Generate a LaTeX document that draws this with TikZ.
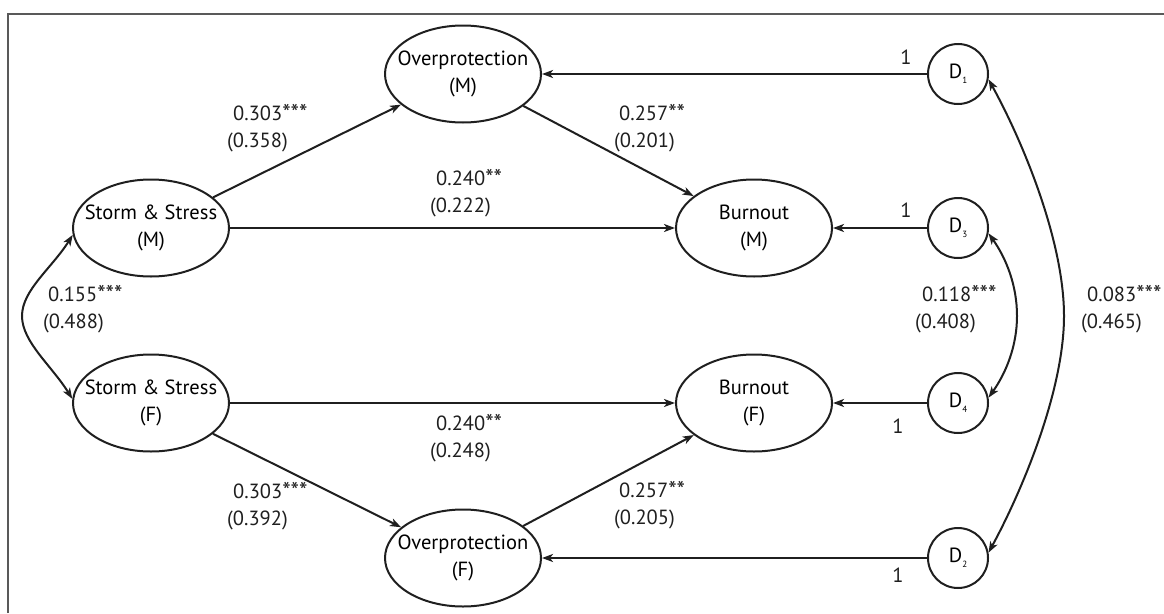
\documentclass[tikz,border=0pt]{standalone}
\usepackage{fontspec}
\setmainfont{PT Sans}
\usetikzlibrary{shapes.geometric,arrows.meta}
\newcommand\twoline[2]{\makebox[0pt]{\begin{tabular}{@{}c@{}}#1\\#2\end{tabular}}}
\newcommand\dsub[1]{D\raisebox{-5pt}{\fontsize{9}{9}\selectfont #1}}
\newcommand\stars[1]{\raisebox{-1.5pt}{\fontsize{24}{24}\selectfont #1}}
\begin{document}
\begin{tikzpicture}[x=1pt,y=-1pt,
  font=\fontsize{20.5}{27}\selectfont,
  ink/.style={draw=black!88, line width=2pt},
  latent/.style={ellipse, ink, minimum width=156pt, minimum height=97pt, inner sep=0pt},
  dnode/.style={circle, ink, minimum size=60pt, inner sep=0pt},
  arr/.style={ink, -{Stealth[length=11pt,width=8pt,inset=3pt]}},
  cov/.style={ink, {Stealth[length=11pt,width=8pt,inset=3pt]}-{Stealth[length=11pt,width=8pt,inset=3pt]}},
  coef/.style={anchor=west, align=left, inner sep=0pt, text=black!88},
  one/.style={inner sep=0pt, text=black!88},
  frame/.style={draw=black!65, line width=2pt}
  ]
\useasboundingbox (0,0) rectangle (1164,613);
\coordinate (fbl) at (8,613);
\coordinate (ftl) at (8,14);
\coordinate (ftr) at (1164,14);
\draw[frame] (fbl) -- (ftl) -- (ftr);

% latent variables
\node[latent] (opm) at (463,74) {\twoline{Overprotection}{(M)}};
\node[latent] (ssm) at (151,228) {\twoline{Storm \& Stress}{(M)}};
\node[latent] (bm)  at (754,228) {\twoline{Burnout}{(M)}};
\node[latent] (ssf) at (151,403) {\twoline{Storm \& Stress}{(F)}};
\node[latent] (bf)  at (754,403) {\twoline{Burnout}{(F)}};
\node[latent] (opf) at (463,558) {\twoline{Overprotection}{(F)}};

% disturbances
\node[dnode] (d1) at (958,74)  {\dsub{1}};
\node[dnode] (d3) at (958,228) {\dsub{3}};
\node[dnode] (d4) at (958,403) {\dsub{4}};
\node[dnode] (d2) at (958,558) {\dsub{2}};

% structural paths
\draw[arr] (ssm) -- (opm);
\draw[arr] (ssm) -- (bm);
\draw[arr] (opm) -- (bm);
\draw[arr] (ssf) -- (bf);
\draw[arr] (ssf) -- (opf);
\draw[arr] (opf) -- (bf);

% disturbance paths
\draw[arr] (d1) -- (opm);
\draw[arr] (d3) -- (bm);
\draw[arr] (d4) -- (bf);
\draw[arr] (d2) -- (opf);

% covariances
\draw[cov] (ssm.185) .. controls (52,268) and (22,290) .. (22,316)
                     .. controls (22,342) and (52,366) .. (ssf.177);
\draw[cov] (d3.-10) .. controls (1006,258) and (1017,285) .. (1017,316)
                    .. controls (1017,346) and (1006,373) .. (d4.10);
\draw[cov] (d1.-10) .. controls (1022,140) and (1064,240) .. (1064,316)
                    .. controls (1064,391) and (1022,491) .. (d2.10);

% coefficients
\node[coef] (c1) at (227,128) {\hspace*{6pt}0.303\stars{***}\\(0.358)};
\node[coef] (c2) at (430,193) {\hspace*{6pt}0.240\stars{**}\\(0.222)};
\node[coef] (c3) at (614,128) {\hspace*{5pt}0.257\stars{**}\\(0.201)};
\node[coef] (c4) at (43,309)  {\hspace*{5pt}0.155\stars{***}\\(0.488)};
\node[coef] (c5) at (915,309) {\hspace*{7pt}0.118\stars{***}\\(0.408)};
\node[coef] (c6) at (1081,309) {\hspace*{6pt}0.083\stars{***}\\(0.465)};
\node[coef] (c7) at (430,438) {\hspace*{6pt}0.240\stars{**}\\(0.248)};
\node[coef] (c8) at (227,506) {\hspace*{6pt}0.303\stars{***}\\(0.392)};
\node[coef] (c9) at (614,505) {\hspace*{5pt}0.257\stars{**}\\(0.205)};

% fixed loadings
\node[one] (l1) at (906,57)  {1};
\node[one] (l3) at (906,210) {1};
\node[one] (l4) at (898,426) {1};
\node[one] (l2) at (898,575) {1};
\end{tikzpicture}
\end{document}
